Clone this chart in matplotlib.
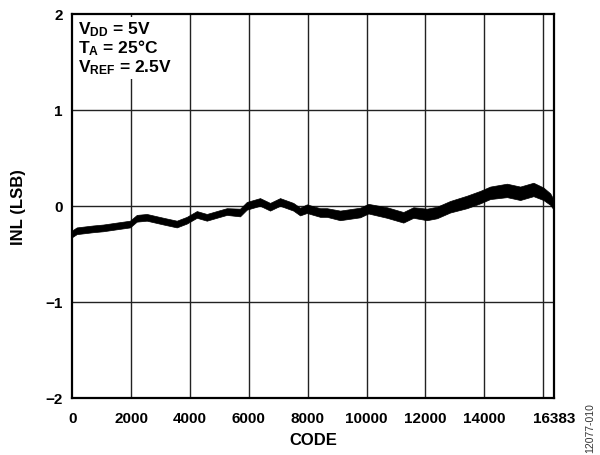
import numpy as np
import matplotlib
matplotlib.use("Agg")
import matplotlib.pyplot as plt

plt.rcParams['font.family'] = ['Liberation Sans', 'DejaVu Sans']
plt.rcParams['font.weight'] = 'bold'
plt.rcParams['mathtext.fontset'] = 'custom'
plt.rcParams['mathtext.rm'] = 'Liberation Sans:bold'
plt.rcParams['mathtext.bf'] = 'Liberation Sans:bold'
plt.rcParams['mathtext.it'] = 'Liberation Sans:bold'

# INL trace: centre and half band width (LSB)
code = [0, 150, 700, 1050, 1500, 1960, 2190, 2530, 3100, 3550, 3890, 4230,
        4570, 5020, 5250, 5700, 5930, 6380, 6720, 7060, 7510, 7740, 7970,
        8420, 8650, 9100, 9780, 10060, 10690, 11250, 11590, 12050, 12390,
        12840, 13410, 13860, 14200, 14770, 15220, 15670, 16010, 16240, 16383]
inl = [-0.29, -0.26, -0.24, -0.23, -0.21, -0.19, -0.13, -0.12, -0.16, -0.19,
       -0.15, -0.09, -0.12, -0.08, -0.06, -0.07, 0.00, 0.04, -0.01, 0.04,
       -0.01, -0.06, -0.03, -0.07, -0.07, -0.10, -0.07, -0.03, -0.07, -0.12,
       -0.07, -0.09, -0.07, -0.01, 0.04, 0.09, 0.135, 0.16, 0.13, 0.17,
       0.125, 0.07, 0.0]
half = [0.035, 0.035, 0.035, 0.035, 0.035, 0.035, 0.035, 0.035, 0.035, 0.035,
        0.035, 0.035, 0.035, 0.035, 0.035, 0.04, 0.04, 0.04, 0.04, 0.04,
        0.04, 0.04, 0.045, 0.045, 0.045, 0.05, 0.05, 0.05, 0.055, 0.055,
        0.055, 0.06, 0.06, 0.06, 0.065, 0.065, 0.065, 0.07, 0.07, 0.07,
        0.065, 0.06, 0.05]

xtick_pos = [0, 2000, 4000, 6000, 8000, 10000, 12000, 14000, 16383]
xtick_lab = ['0', '2000', '4000', '6000', '8000', '10000', '12000', '14000', '16383']
xgrid = [2000, 4000, 6000, 8000, 10000, 12000, 14000, 16000]
yticks = [-2, -1, 0, 1, 2]

c = np.array(code)
m = np.array(inl)
h = np.array(half)

fig = plt.figure(figsize=(6, 4.56), dpi=100)
ax = fig.add_axes([0.1205, 0.125, 0.8035, 0.843])

for g in xgrid:
    ax.axvline(g, color='#222222', lw=1.0, zorder=1)
for g in yticks[1:-1]:
    ax.axhline(g, color='#222222', lw=1.0, zorder=1)

ax.fill_between(c, m - h, m + h, color='black', lw=0.5, edgecolor='black', zorder=3)

ax.set_xlim(0, 16383)
ax.set_ylim(-2, 2)
ax.set_xticks(xtick_pos)
ax.set_xticklabels(xtick_lab)
ax.set_yticks(yticks)
ax.tick_params(length=0, labelsize=11)
ax.tick_params(axis='x', pad=9.5)
ax.tick_params(axis='y', pad=7)
for s in ax.spines.values():
    s.set_linewidth(1.6)

ax.set_xlabel('CODE', fontsize=12, fontweight='bold', labelpad=5)
ax.set_ylabel('INL (LSB)', fontsize=12, fontweight='bold', labelpad=14)

ax.text(0.012, 0.985,
        'V$_{\\rm DD}$ = 5V\nT$_{\\rm A}$ = 25°C\nV$_{\\rm REF}$ = 2.5V',
        transform=ax.transAxes, ha='left', va='top', fontsize=12.5,
        fontweight='bold', linespacing=0.98, zorder=5,
        bbox=dict(facecolor='white', edgecolor='none', pad=2))

fig.text(0.983, 0.062, '12077-010', rotation=90, ha='center', va='center',
         fontsize=7.5, fontweight='normal', color='#333333')

fig.savefig('out.png', dpi=100)
